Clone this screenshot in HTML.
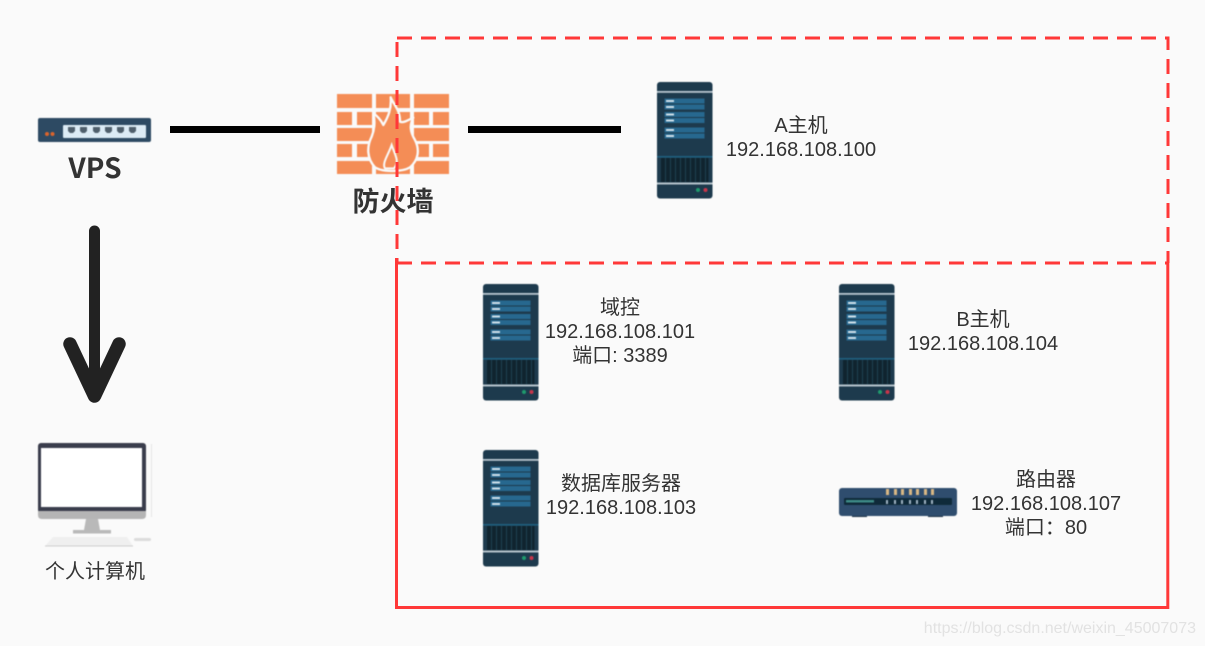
<!DOCTYPE html>
<html><head><meta charset="utf-8"><style>
html,body{margin:0;padding:0;background:#fafafa;width:1205px;height:646px;overflow:hidden}
svg{display:block}
text{font-family:"Liberation Sans","Noto Sans CJK SC",sans-serif;font-size:20px;fill:#333;text-anchor:middle}
.ic{filter:blur(.5px)}
</style></head><body>
<svg width="1205" height="646" viewBox="0 0 1205 646" xmlns="http://www.w3.org/2000/svg">
<defs>
<symbol id="srv" width="56" height="117" viewBox="0 0 56 117" overflow="visible">
<rect x="0" y="0" width="55.5" height="116.5" rx="3" fill="#1d3a4d"/>
<rect x="0" y="9" width="55.5" height="1.8" fill="#b8c6cf"/>
<g fill="#27688f">
<rect x="7.500" y="16.500" width="40" height="5"/><rect x="7.500" y="22.500" width="40" height="5"/>
<rect x="7.500" y="30" width="40" height="5"/><rect x="7.500" y="36" width="40" height="5"/>
<rect x="7.500" y="45.500" width="40" height="5"/><rect x="7.500" y="51.500" width="40" height="5"/>
</g>
<g fill="#cfe0ea">
<rect x="9" y="18" width="8" height="2"/><rect x="9" y="24" width="8" height="2"/>
<rect x="9" y="31.500" width="8" height="2"/><rect x="9" y="37.500" width="8" height="2"/>
<rect x="9" y="47" width="8" height="2"/><rect x="9" y="53" width="8" height="2"/>
</g>
<rect x="0" y="74" width="55.500" height="1.600" fill="#1f5f7f"/>
<rect x="4" y="76" width="47.500" height="24" fill="#10242f"/>
<g fill="#1e4152">
<rect x="8" y="76" width="1" height="24"/><rect x="13" y="76" width="1" height="24"/><rect x="18" y="76" width="1" height="24"/><rect x="23" y="76" width="1" height="24"/><rect x="28" y="76" width="1" height="24"/><rect x="33" y="76" width="1" height="24"/><rect x="38" y="76" width="1" height="24"/><rect x="43" y="76" width="1" height="24"/><rect x="48" y="76" width="1" height="24"/>
</g>
<rect x="0" y="100.500" width="55.500" height="2" fill="#b5c2ca"/>
<circle cx="41" cy="108" r="2" fill="#1f9a6d"/>
<circle cx="48.500" cy="108" r="2" fill="#c8354a"/>
</symbol>
</defs>

<rect width="1205" height="646" fill="#fafafa"/>

<!-- VPS switch -->
<g class="ic">
<rect x="38" y="118" width="113" height="24" rx="2" fill="#2d4a63"/>
<rect x="63" y="125" width="83" height="13" rx="1" fill="#dcebf5"/>
<g fill="#4f5f6c">
<path d="M68 127h7v4l-2 2h-3l-2-2z"/><path d="M80 127h7v4l-2 2h-3l-2-2z"/><path d="M93 127h7v4l-2 2h-3l-2-2z"/><path d="M105 127h7v4l-2 2h-3l-2-2z"/><path d="M117 127h7v4l-2 2h-3l-2-2z"/><path d="M129 127h7v4l-2 2h-3l-2-2z"/>
</g>
<circle cx="47" cy="134" r="2" fill="#d9642c"/><circle cx="52.500" cy="134" r="2" fill="#d9642c"/>
</g>
<text x="95" y="178" style="font-size:28px;font-weight:700;font-family:'Noto Sans CJK SC','Liberation Sans',sans-serif">VPS</text>

<!-- connectors -->
<rect x="170" y="126" width="150" height="7" fill="#000"/>
<rect x="468" y="126" width="153" height="7" fill="#000"/>

<!-- arrow -->
<path d="M94.500 231V390" fill="none" stroke="#222" stroke-width="11" stroke-linecap="round"/>
<path d="M70 344L94.500 396L119 344" fill="none" stroke="#222" stroke-width="13.500" stroke-linecap="round" stroke-linejoin="round"/>

<!-- firewall -->
<g class="ic">
<g fill="#f48d56">
<rect x="337" y="94" width="35" height="14"/><rect x="376" y="94" width="34" height="14"/><rect x="414" y="94" width="35" height="14"/>
<rect x="337" y="112" width="15" height="13"/><rect x="357" y="112" width="15" height="13"/><rect x="376" y="112" width="34" height="13"/><rect x="414" y="112" width="15" height="13"/><rect x="433" y="112" width="16" height="13"/>
<rect x="337" y="128" width="35" height="13"/><rect x="376" y="128" width="34" height="13"/><rect x="414" y="128" width="35" height="13"/>
<rect x="337" y="144" width="15" height="13"/><rect x="357" y="144" width="15" height="13"/><rect x="376" y="144" width="34" height="13"/><rect x="414" y="144" width="15" height="13"/><rect x="433" y="144" width="16" height="13"/>
<rect x="337" y="161" width="35" height="13"/><rect x="376" y="161" width="34" height="13"/><rect x="414" y="161" width="35" height="13"/>
</g>
<g transform="translate(320 80) scale(.3333)">
<path d="M212 52C225 80 240 90 240 125C250 130 265 120 280 113C268 135 270 155 285 180C300 210 295 240 270 262C250 275 190 278 165 262C140 235 140 200 155 170C165 145 165 120 160 100C175 110 185 125 190 135C205 110 215 85 212 52Z" fill="#f48d56" stroke="#fafafa" stroke-width="7" stroke-linejoin="round"/>
<path d="M215 195C225 225 240 245 222 265L195 265C185 250 205 225 215 195Z" fill="#f48d56" stroke="#fafafa" stroke-width="6"/>
</g>
</g>
<text x="393" y="211" style="font-size:27px;font-weight:700">防火墙</text>

<!-- red boxes -->
<g fill="none" stroke="#ff3838" stroke-width="3">
<path d="M397 38H1168V263" stroke-dasharray="15 9"/>
<path d="M397 42V263" stroke-dasharray="15 9"/>
<path d="M397 263H1168" stroke-dasharray="15 9"/>
<path d="M396.500 258V607.500H1167.800V263"/>
</g>

<!-- servers -->
<g class="ic">
<use href="#srv" x="657" y="82" width="56" height="117"/>
<use href="#srv" x="483" y="284" width="56" height="117"/>
<use href="#srv" x="839" y="284" width="56" height="117"/>
<use href="#srv" x="483" y="450" width="56" height="117"/>
</g>

<!-- router -->
<g class="ic">
<rect x="852" y="514" width="15" height="3" fill="#1f3447"/><rect x="928" y="514" width="15" height="3" fill="#1f3447"/>
<rect x="839" y="488" width="118" height="28" rx="3" fill="#2f4d6e"/>
<rect x="844" y="498" width="108" height="7" rx="1" fill="#0f2a3a"/>
<rect x="846" y="500" width="28" height="2.500" fill="#3d8a86"/>
<g fill="#d9b884">
<rect x="886" y="489" width="3" height="6"/><rect x="894" y="489" width="3" height="6"/><rect x="901" y="489" width="3" height="6"/><rect x="909" y="489" width="3" height="6"/><rect x="916" y="489" width="3" height="6"/><rect x="924" y="489" width="3" height="6"/><rect x="931" y="489" width="3" height="6"/>
</g>
<g fill="#9fb3c2">
<rect x="886" y="500" width="2" height="4"/><rect x="894" y="500" width="2" height="4"/><rect x="901" y="500" width="2" height="4"/><rect x="909" y="500" width="2" height="4"/><rect x="916" y="500" width="2" height="4"/><rect x="924" y="500" width="2" height="4"/><rect x="931" y="500" width="2" height="4"/>
</g>
</g>

<!-- PC -->
<g class="ic">
<rect x="38" y="443" width="108" height="70" rx="3" fill="#3a3d4c"/>
<rect x="41" y="448" width="101" height="59" fill="#fff"/>
<path d="M38 511H146V515Q146 519 142 519H42Q38 519 38 515Z" fill="#b5b5b5"/>
<path d="M86 519H98L100 530H111V533.500H73V530H84Z" fill="#b9b9b9"/>
<path d="M45 546L53 537H127L133 546Z" fill="#efefef"/>
<path d="M45 546H133" stroke="#cfcfcf" stroke-width="1"/>
<rect x="134" y="538" width="17" height="3" rx="1.500" fill="#dcdcdc"/>
<rect x="151" y="444" width="1" height="73" fill="#e6e6e6"/>
</g>

<!-- labels -->
<text x="95" y="578">个人计算机</text>
<text x="801" y="132">A主机</text>
<text x="801" y="156">192.168.108.100</text>
<text x="620" y="314">域控</text>
<text x="620" y="338">192.168.108.101</text>
<text x="620" y="362">端口: 3389</text>
<text x="983" y="326">B主机</text>
<text x="983" y="350">192.168.108.104</text>
<text x="621" y="490">数据库服务器</text>
<text x="621" y="514">192.168.108.103</text>
<text x="1046" y="486">路由器</text>
<text x="1046" y="510">192.168.108.107</text>
<text x="1046" y="534">端口：80</text>

<text x="1196" y="633" style="font-size:16px;fill:#e2e2e2;text-anchor:end">https://blog.csdn.net/weixin_45007073</text>
</svg>
</body></html>
